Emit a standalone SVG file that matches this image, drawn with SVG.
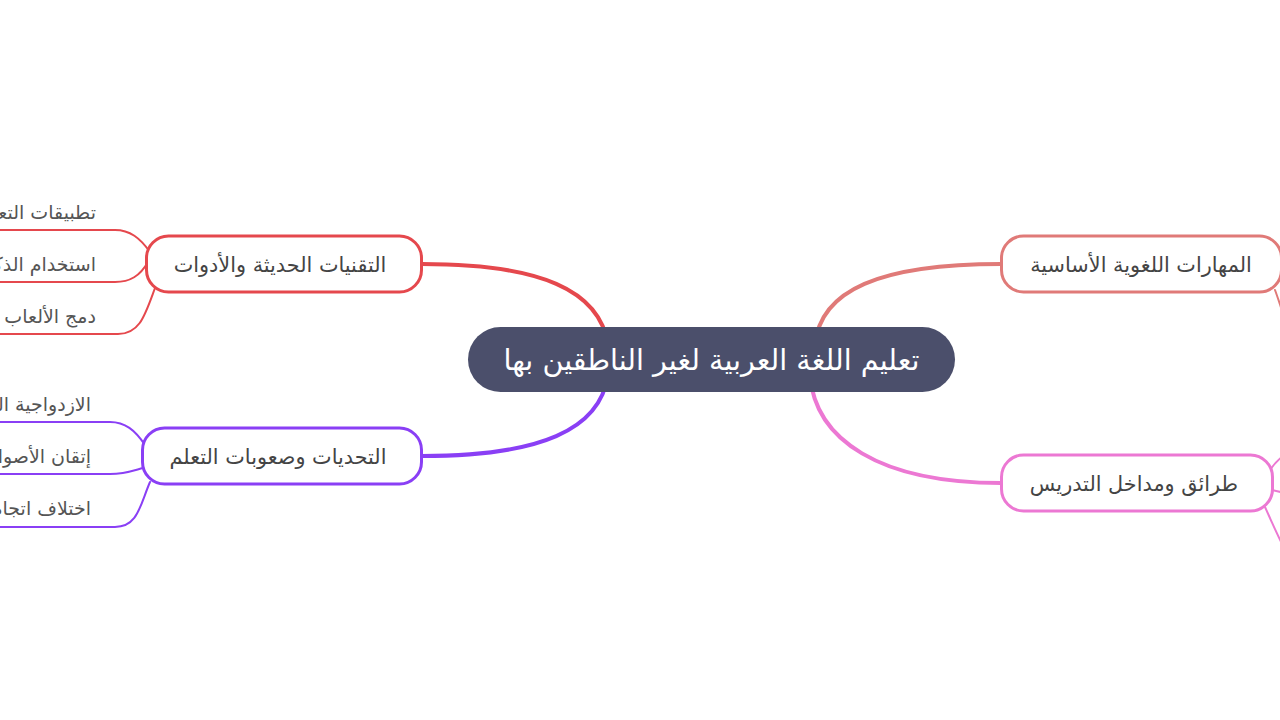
<svg xmlns="http://www.w3.org/2000/svg" width="1280" height="720" viewBox="0 0 1280 720">
<style>
.t{font-family:"DejaVu Sans",sans-serif;fill:#444;}
.n{font-size:20.8px;}
.l{font-size:19px;fill:#555;}
.c{font-family:"DejaVu Sans",sans-serif;font-size:28.6px;fill:#fff;}
.box{fill:#fff;stroke-width:3;}
.ln{fill:none;stroke-width:2;stroke-linecap:round;}
.br{fill:none;stroke-width:4;stroke-linecap:round;}
</style>
<rect width="1280" height="720" fill="#fff"/>
<g id="connectors">
<path class="br" stroke="#E5484D" d="M608 345 C600 290 540 264 422 264"/>
<path class="br" stroke="#8A3FF5" d="M608 375 C600 430 540 456 422 456"/>
<path class="br" stroke="#E07A78" d="M815 345 C820 290 880 264 1001 264"/>
<path class="br" stroke="#EC78D3" d="M810 375 C815 440 880 483 1001 483"/>
<path class="ln" stroke="#E5484D" d="M150 252 C140 238 130 230 115 230 L-10 230"/>
<path class="ln" stroke="#E5484D" d="M148 262 C140 276 130 282 115 282 L-10 282"/>
<path class="ln" stroke="#E5484D" d="M155 288 C145 315 140 334 118 334 L-10 334"/>
<path class="ln" stroke="#8A3FF5" d="M145 445 C135 430 125 422 110 422 L-10 422"/>
<path class="ln" stroke="#8A3FF5" d="M143 468 C135 470 125 474 110 474 L-10 474"/>
<path class="ln" stroke="#8A3FF5" d="M150 482 C140 505 138 527 115 527 L-10 527"/>
<path class="ln" stroke="#E07A78" d="M1275 290 C1278 298 1281 308 1286 322"/>
<path class="ln" stroke="#EC78D3" d="M1270 470 C1274 464 1278 459 1286 454"/>
<path class="ln" stroke="#EC78D3" d="M1272 490 C1276 491 1280 492 1286 493"/>
<path class="ln" stroke="#EC78D3" d="M1265 507 C1270 518 1276 532 1284 548"/>
</g>
<g id="center">
<rect x="468" y="327" width="487" height="65" rx="32.5" fill="#4B4F6B"/>
<text class="c" x="711.5" y="370" text-anchor="middle">تعليم اللغة العربية لغير الناطقين بها</text>
</g>
<g id="node-tech">
<rect class="box" x="146.5" y="236" width="275" height="56" rx="22" stroke="#E5484D"/>
<text class="t n" x="280" y="272" text-anchor="middle">التقنيات الحديثة والأدوات</text>
</g>
<g id="node-challenges">
<rect class="box" x="142.5" y="428" width="279" height="56" rx="22" stroke="#8A3FF5"/>
<text class="t n" x="278" y="464" text-anchor="middle">التحديات وصعوبات التعلم</text>
</g>
<g id="node-skills">
<rect class="box" x="1001.5" y="236" width="280" height="56" rx="22" stroke="#E07A78"/>
<text class="t n" x="1141" y="272" text-anchor="middle">المهارات اللغوية الأساسية</text>
</g>
<g id="node-methods">
<rect class="box" x="1001.5" y="455" width="271" height="56" rx="22" stroke="#EC78D3"/>
<text class="t n" x="1134" y="491" text-anchor="middle">طرائق ومداخل التدريس</text>
</g>
<g id="leaf-apps"><text class="t l" x="96" y="219" text-anchor="end">تطبيقات التعلم الذكية</text></g>
<g id="leaf-ai"><text class="t l" x="96" y="271" text-anchor="end">استخدام الذكاء الاصطناعي</text></g>
<g id="leaf-games"><text class="t l" x="96" y="323" text-anchor="end">دمج الألعاب التعليمية</text></g>
<g id="leaf-diglossia"><text class="t l" x="91" y="411" text-anchor="end">الازدواجية اللغوية</text></g>
<g id="leaf-sounds"><text class="t l" x="91" y="463" text-anchor="end">إتقان الأصوات</text></g>
<g id="leaf-direction"><text class="t l" x="91" y="515" text-anchor="end">اختلاف اتجاه الكتابة</text></g>
</svg>
